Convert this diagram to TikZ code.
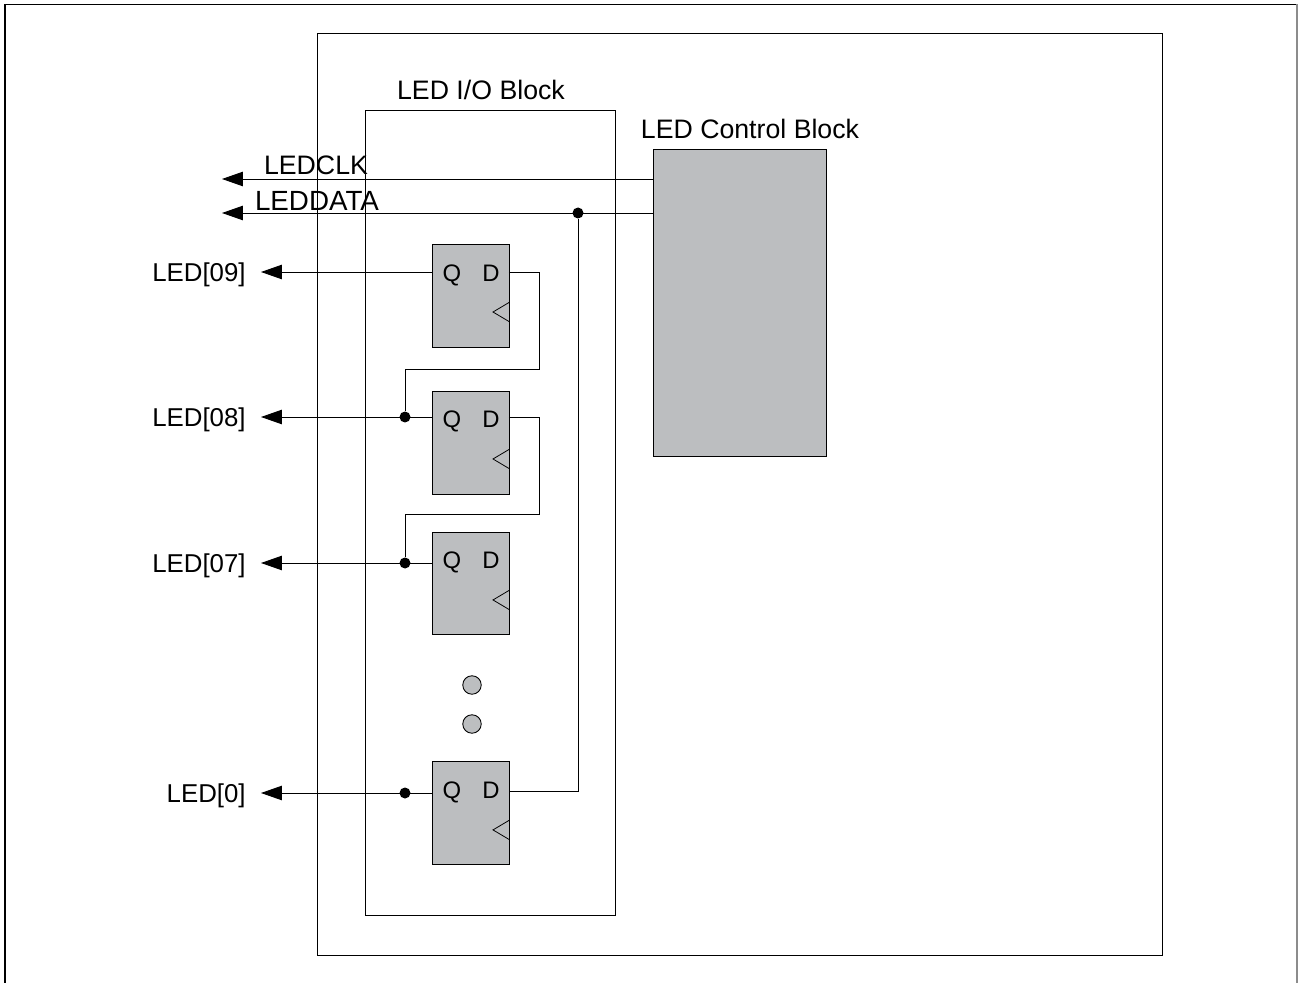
\documentclass[tikz,border=0pt]{standalone}
\usepackage{fontspec}
\setmainfont{Liberation Sans}
\usetikzlibrary{arrows.meta, positioning, calc}
\definecolor{BlockGray}{HTML}{BCBEC0}
\tikzset{
  wire/.style={line width=0.5pt, draw=black},
  pinout/.style={wire, -{Triangle[length=4.2mm, width=2.9mm]}},
  frame/.style={draw=black, line width=0.55pt, outer sep=0pt},
  ffbox/.style={draw=black, line width=0.5pt, outer sep=0pt, fill=BlockGray, minimum width=15.4mm, minimum height=20.6mm, inner sep=0pt},
  ctlbox/.style={draw=black, line width=0.5pt, outer sep=0pt, fill=BlockGray, minimum width=34.6mm, minimum height=61.4mm, inner sep=0pt},
  iobox/.style={frame, minimum width=50mm, minimum height=161mm, inner sep=0pt},
  chipbox/.style={frame, minimum width=169mm, minimum height=184.4mm, inner sep=0pt},
  lbl/.style={font=\fontsize{15.2pt}{18pt}\selectfont, inner sep=0pt, anchor=base},
  ledlbl/.style={font=\fontsize{14.7pt}{18pt}\selectfont, inner sep=0pt, yshift=-0.5mm},
  pinlbl/.style={font=\fontsize{13.6pt}{16pt}\selectfont, inner sep=0pt, anchor=base},
  junct/.style={circle, fill=black, minimum size=2.2mm, inner sep=0pt},
  vdot/.style={circle, draw=black, line width=0.5pt, fill=BlockGray, minimum size=3.7mm, inner sep=0pt},
}
\begin{document}
\begin{tikzpicture}[x=0.02cm, y=-0.02cm]
    \useasboundingbox (0,0) rectangle (1299,983);
    % outer frame has no bottom edge
    \draw[line width=0.9pt] (5,983) -- (5,4.5) -- (1297,4.5);
    \draw[line width=0.6pt, draw=black!45] (1297,4.5) -- (1297,983);

    \node[chipbox] (chip) at (740,494.5) {};
    \node[iobox] (io) at (490.5,513) {};
    \node[ctlbox] (ctl) at (739.5,302.5) {};
    \node[lbl] (ctllbl) at (750,139) {LED Control Block};
    \node[lbl] (iolbl) at (481,99.5) {LED I/O Block};

    % flops
    \node[ffbox] (ff09) at (470.5,295.5) {};
    \node[ffbox, below=8.8mm of ff09] (ff08) {};
    \node[ffbox, below=7.6mm of ff08] (ff07) {};
    \node[ffbox, below=25.4mm of ff07] (ff0) {};
    \foreach \n in {09,08,07,0} {
      \node[pinlbl] (q\n) at ($(ff\n.north west)+(20,37)$) {Q};
      \node[pinlbl] (d\n) at ($(ff\n.north east)+(-18,37)$) {D};
      \draw[line width=0.45pt] ($(ff\n.north east)+(0,58.5)$) -- ++(-16,9.5) -- ++(16,9.5);
    }
    \node[vdot] (dot1) at (472,685) {};
    \node[vdot] (dot2) at (472,724) {};

    % free ends of the outputs
    \coordinate (clkend) at (222,179);
    \coordinate (dataend) at (222,213);
    \coordinate (out09) at (261,272);
    \coordinate (out08) at (261,417);
    \coordinate (out07) at (261,563);
    \coordinate (out0) at (261,793);
    \node[lbl] (clklbl) at (316,175) {LEDCLK};
    \node[lbl, font=\fontsize{15.8pt}{18pt}\selectfont] (datalbl) at (317,211) {LEDDATA};
    \node[ledlbl, left=3mm of out09] (led09) {LED[09]};
    \node[ledlbl, left=3mm of out08] (led08) {LED[08]};
    \node[ledlbl, left=3mm of out07] (led07) {LED[07]};
    \node[ledlbl, left=3mm of out0] (led0) {LED[0]};

    % junctions
    \node[junct] (jdata) at (578,213) {};
    \node[junct] (j08) at (405,417) {};
    \node[junct] (j07) at (405,563) {};
    \node[junct] (j0) at (405,793) {};

    \draw[pinout] (ctl.west |- clkend) -- (clkend);
    \draw[pinout] (ctl.west |- dataend) -- (dataend);
    \draw[pinout] (ff09.west |- out09) -- (out09);
    \draw[pinout] (ff08.west |- out08) -- (out08);
    \draw[pinout] (ff07.west |- out07) -- (out07);
    \draw[pinout] (ff0.west |- out0) -- (out0);
    \draw[wire] (ff09.east |- out09) -| (539,369) -| (j08);
    \draw[wire] (ff08.east |- out08) -| (539,514) -| (j07);
    \draw[wire] (jdata) -- (578,791) -- (ff0.east |- 0,791);
  \end{tikzpicture}
\end{document}
